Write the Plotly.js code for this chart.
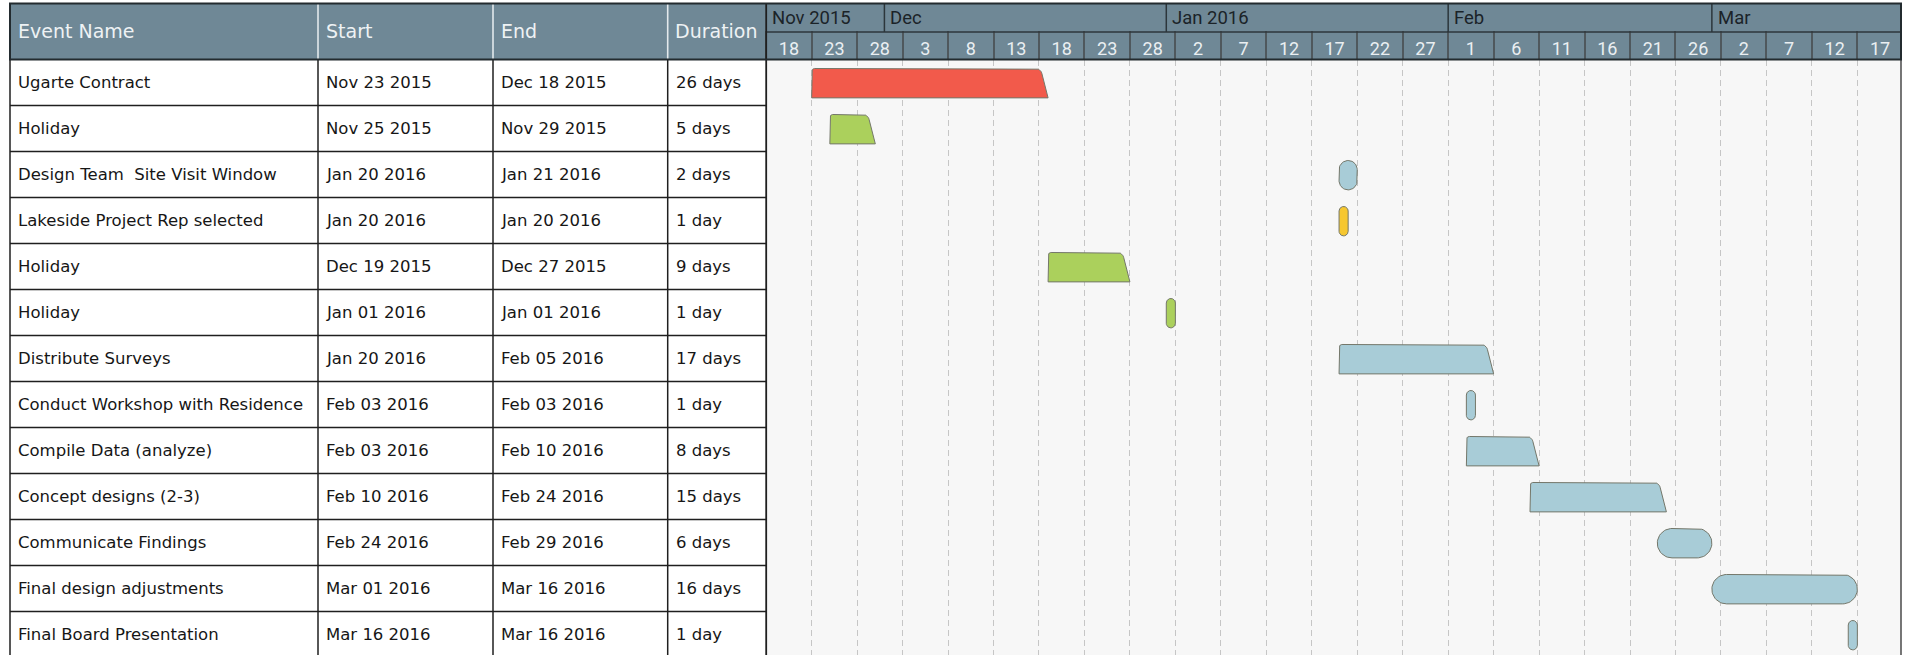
<!DOCTYPE html>
<html>
<head>
<meta charset="utf-8">
<script src="https://cdn.plot.ly/plotly-3.0.1.min.js"></script>
<style>html,body{margin:0;padding:0;background:#fff;overflow:hidden}</style>
</head>
<body>
<div id="chart" style="width:1907px;height:655px"></div>
<script>
// ---------------- data ----------------
const eventNames = [
  'Ugarte Contract', 'Holiday', 'Design Team  Site Visit Window', 'Lakeside Project Rep selected',
  'Holiday', 'Holiday', 'Distribute Surveys', 'Conduct Workshop with Residence',
  'Compile Data (analyze)', 'Concept designs (2-3)', 'Communicate Findings',
  'Final design adjustments', 'Final Board Presentation'
];
const startDates = [
  '2015-11-23', '2015-11-25', '2016-01-20', '2016-01-20', '2015-12-19', '2016-01-01', '2016-01-20',
  '2016-02-03', '2016-02-03', '2016-02-10', '2016-02-24', '2016-03-01', '2016-03-16'
];
const endDates = [
  '2015-12-18', '2015-11-29', '2016-01-21', '2016-01-20', '2015-12-27', '2016-01-01', '2016-02-05',
  '2016-02-03', '2016-02-10', '2016-02-24', '2016-02-29', '2016-03-16', '2016-03-16'
];
const durationLabels = [
  '26 days', '5 days', '2 days', '1 day', '9 days', '1 day', '17 days',
  '1 day', '8 days', '15 days', '6 days', '16 days', '1 day'
];
const eventTypes = [
  'contract', 'holiday', 'task', 'milestone', 'holiday', 'holiday', 'task',
  'task', 'task', 'task', 'task', 'task', 'task'
];
const barEnds = [
  'slant', 'slant', 'round', 'round', 'slant', 'round', 'slant',
  'round', 'slant', 'slant', 'round', 'round', 'round'
];
const columnHeaders = ['Event Name', 'Start', 'End', 'Duration'];
const monthLabels = ['Nov 2015', 'Dec', 'Jan 2016', 'Feb', 'Mar'];
const monthStarts = ['2015-11-01', '2015-12-01', '2016-01-01', '2016-02-01', '2016-03-01'];
const dayTickLabels = ['18', '23', '28', '3', '8', '13', '18', '23', '28', '2', '7', '12', '17',
                       '22', '27', '1', '6', '11', '16', '21', '26', '2', '7', '12', '17'];
const axisStart = '2015-11-18';
const axisEnd = '2016-03-21 19:12';
const tickStepDays = 5;

// ---------------- style ----------------
const typeColors = { contract: '#f25a4b', holiday: '#abd05c', task: '#a8ccd7', milestone: '#f6c72f' };
const DAY = 86400000;
const W = 1907, H = 655;
const tableCols = [10, 318, 493, 667.7];
const chartLeft = 766.2, chartRight = 1901;
const headTop = 3.5, monthBottom = 32, headBottom = 59.5, rowPx = 46;
const px2x = v => v / W;
const px2y = v => 1 - v / H;

function toMs(s) {
  const p = s.split(/[- :]/).map(Number);
  return Date.UTC(p[0], p[1] - 1, p[2], p[3] || 0, p[4] || 0);
}
const MONTHS = ['Jan','Feb','Mar','Apr','May','Jun','Jul','Aug','Sep','Oct','Nov','Dec'];
function fmtDate(s) { const p = s.split('-'); return MONTHS[+p[1] - 1] + ' ' + p[2] + ' ' + p[0]; }

const axisStartMs = toMs(axisStart), axisEndMs = toMs(axisEnd);
const pxPerDay = (chartRight - chartLeft) / ((axisEndMs - axisStartMs) / DAY);
const yBottom = -0.5 + (H - headBottom) / rowPx;
// day labels sit in the middle of each 5-day cell
const dayTickVals = dayTickLabels.map((_, k) => axisStartMs + (k + 0.5) * tickStepDays * DAY);

// rounded polygon (pixel offsets) using rational quadratic corners
function roundPoly(verts, samples) {
  const pts = [], n = verts.length;
  for (let i = 0; i < n; i++) {
    const p = verts[(i - 1 + n) % n], v = verts[i], q = verts[(i + 1) % n];
    if (!v.r) { pts.push([v.x, v.y]); continue; }
    const d1 = Math.hypot(p.x - v.x, p.y - v.y), d2 = Math.hypot(q.x - v.x, q.y - v.y);
    const r = Math.min(v.r, d1 / 2, d2 / 2);
    const a = [v.x + (p.x - v.x) * r / d1, v.y + (p.y - v.y) * r / d1];
    const b = [v.x + (q.x - v.x) * r / d2, v.y + (q.y - v.y) * r / d2];
    const cosPhi = ((p.x - v.x) * (q.x - v.x) + (p.y - v.y) * (q.y - v.y)) / (d1 * d2);
    const phi = Math.acos(Math.max(-1, Math.min(1, cosPhi)));
    const wgt = Math.sin(phi / 2);
    for (let k = 0; k <= samples; k++) {
      const t = k / samples, b0 = (1 - t) * (1 - t), b1 = 2 * wgt * t * (1 - t), b2 = t * t;
      const den = b0 + b1 + b2;
      pts.push([(b0 * a[0] + b1 * v.x + b2 * b[0]) / den, (b0 * a[1] + b1 * v.y + b2 * b[1]) / den]);
    }
  }
  pts.push(pts[0]);
  return pts;
}

// ---------------- bars ----------------
const halfBar = 14.7;
const traces = [];
eventNames.forEach((name, i) => {
  const s = toMs(startDates[i]), e = toMs(endDates[i]) + DAY;
  const w = (e - s) / DAY * pxPerDay;
  let verts;
  if (barEnds[i] === 'slant') {
    verts = [{x: 0, y: halfBar, r: 0}, {x: 0, y: -halfBar, r: 3},
             {x: w - 7.5, y: -halfBar, r: 5}, {x: w, y: halfBar, r: 0}];
  } else {
    const r = Math.min(15, w / 2, halfBar);
    verts = [{x: 0, y: halfBar, r: r}, {x: 0, y: -halfBar, r: r},
             {x: w, y: -halfBar, r: r}, {x: w, y: halfBar, r: r}];
  }
  const pts = roundPoly(verts, 14);
  traces.push({
    type: 'scatter', mode: 'lines',
    x: pts.map(p => s + p[0] / pxPerDay * DAY),
    y: pts.map(p => i + 0.015 + p[1] / rowPx),
    fill: 'toself', fillcolor: typeColors[eventTypes[i]],
    line: {color: '#74776a', width: 1},
    hoverinfo: 'text', text: name + ': ' + fmtDate(startDates[i]) + ' – ' + fmtDate(endDates[i]),
    showlegend: false
  });
});
// invisible anchor trace so the label axis (x2) is drawn
traces.push({type: 'scatter', mode: 'markers', x: [axisStart], y: [-5], xaxis: 'x2', yaxis: 'y',
  marker: {opacity: 0}, hoverinfo: 'skip', showlegend: false});

// ---------------- shapes ----------------
const shapes = [];
function pline(x0, y0, x1, y1, color, width, layer) {
  shapes.push({type: 'line', xref: 'paper', yref: 'paper', x0: px2x(x0), x1: px2x(x1),
    y0: px2y(y0), y1: px2y(y1), line: {color: color, width: width}, layer: layer || 'above'});
}
// header background
shapes.push({type: 'rect', xref: 'paper', yref: 'paper', x0: px2x(tableCols[0]), x1: px2x(chartRight),
  y0: px2y(headBottom), y1: px2y(headTop), fillcolor: '#6f8896', line: {width: 0}, layer: 'below'});
// header separators inside the table part (light)
tableCols.slice(1).forEach(x => pline(x, headTop, x, headBottom, '#e3e9ec', 1.6));
// month row bottom line
pline(chartLeft, monthBottom, chartRight, monthBottom, '#2c363b', 1.5);
// month boundaries
monthStarts.forEach(m => {
  if (toMs(m) > axisStartMs) {
    shapes.push({type: 'line', xref: 'x', yref: 'paper', x0: m, x1: m,
      y0: px2y(monthBottom), y1: px2y(headTop), line: {color: '#2c363b', width: 1.5}, layer: 'above'});
  }
});
// body column lines
tableCols.forEach(x => pline(x, headBottom, x, H, '#1f1f1f', 1.5));
// table / chart separator (full height)
pline(chartLeft, headTop, chartLeft, H, '#1f1f1f', 1.8);
// right border of chart body
pline(chartRight, headBottom, chartRight, H, '#4a4a4a', 1.5);
// row lines in the table
for (let k = 0; k < eventNames.length; k++) {
  shapes.push({type: 'line', xref: 'paper', yref: 'y', x0: px2x(tableCols[0]), x1: px2x(chartLeft),
    y0: k + 0.5, y1: k + 0.5, line: {color: '#1f1f1f', width: 1.5}, layer: 'above'});
}
// header outer border
shapes.push({type: 'rect', xref: 'paper', yref: 'paper', x0: px2x(tableCols[0]), x1: px2x(chartRight),
  y0: px2y(headBottom), y1: px2y(headTop), line: {color: '#232b2f', width: 2}, layer: 'above'});

// ---------------- annotations ----------------
const annotations = [];
const headFont = {family: 'DejaVu Sans', size: 19, color: '#eef2f4'};
const bodyFont = {family: 'DejaVu Sans', size: 16.5, color: '#161616'};
columnHeaders.forEach((h, j) => {
  annotations.push({text: h, xref: 'paper', yref: 'paper', x: px2x(tableCols[j] + 5.5), y: px2y(31),
    xanchor: 'left', yanchor: 'middle', showarrow: false, font: headFont});
});
eventNames.forEach((name, i) => {
  const cells = [name, fmtDate(startDates[i]), fmtDate(endDates[i]), durationLabels[i]];
  cells.forEach((c, j) => {
    annotations.push({text: c, xref: 'paper', yref: 'y', x: px2x(tableCols[j] + 6), y: i,
      xanchor: 'left', yanchor: 'middle', showarrow: false, font: bodyFont});
  });
});
monthLabels.forEach((m, j) => {
  const xm = toMs(monthStarts[j]) < axisStartMs ? axisStart : monthStarts[j];
  annotations.push({text: m, xref: 'x', yref: 'paper', x: xm, y: px2y(18.5), xanchor: 'left',
    yanchor: 'middle', xshift: 4, showarrow: false,
    font: {family: 'Roboto', size: 18.5, color: '#1b2328'}});
});

// ---------------- layout ----------------
const layout = {
  width: W, height: H, autosize: false,
  margin: {l: 0, r: 0, t: 0, b: 0, pad: 0},
  paper_bgcolor: '#ffffff', plot_bgcolor: '#f7f7f7', showlegend: false,
  xaxis: {
    type: 'date', domain: [px2x(chartLeft), px2x(chartRight)], range: [axisStart, axisEnd],
    side: 'top', anchor: 'y',
    tick0: axisStart, dtick: tickStepDays * DAY, showticklabels: false,
    ticks: 'outside', ticklen: 27.5, tickwidth: 2, tickcolor: '#4f585d',
    showgrid: true, gridcolor: '#c6c6c6', gridwidth: 1, griddash: '6px,4px',
    showline: false, zeroline: false, fixedrange: true
  },
  xaxis2: {
    type: 'date', overlaying: 'x', matches: 'x', side: 'top', anchor: 'y',
    range: [axisStart, axisEnd],
    tickmode: 'array', tickvals: dayTickVals, ticktext: dayTickLabels,
    ticks: '', ticklabelstandoff: 0,
    tickfont: {family: 'Roboto', size: 18, color: '#eaeff2'},
    showgrid: false, showline: false, zeroline: false, fixedrange: true
  },
  yaxis: {domain: [0, px2y(headBottom)], range: [yBottom, -0.5], visible: false, fixedrange: true},
  shapes: shapes,
  annotations: annotations
};

Plotly.newPlot('chart', traces, layout, {displayModeBar: false, staticPlot: true});
</script>
</body>
</html>
